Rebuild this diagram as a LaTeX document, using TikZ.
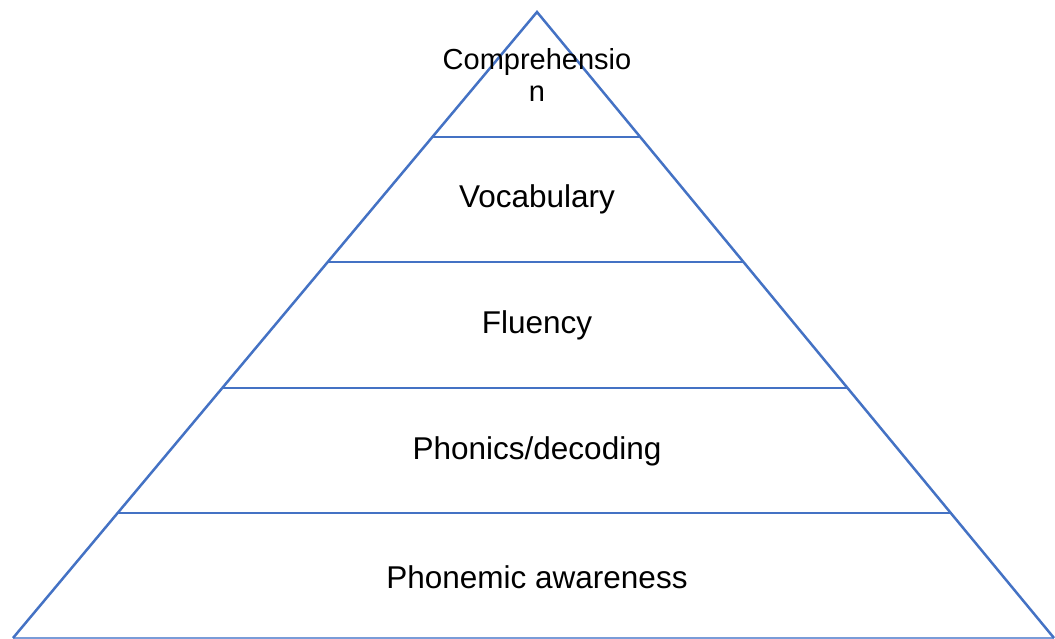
\documentclass[tikz,border=0pt]{standalone}
\usepackage{fontspec}
\setmainfont{Liberation Sans}
\usetikzlibrary{calc}
\definecolor{edgeblue}{HTML}{4472C4}
\definecolor{baseblue}{HTML}{7A9CD8}
\tikzset{
  side/.style={draw=edgeblue, line width=2.5pt, line join=miter},
  tier/.style={draw=edgeblue, line width=2pt},
  base/.style={draw=baseblue, line width=1.4pt},
  label/.style={font=\fontsize{31.5}{35}\selectfont, text=black, align=center, inner sep=0pt},
  toplabel/.style={label, font=\fontsize{29}{32.5}\selectfont},
}
\begin{document}
\begin{tikzpicture}[x=1pt, y=-1pt]
  \useasboundingbox (0,0) rectangle (1055,639);
  \coordinate (apex) at (537,12);
  \coordinate (bl) at (13,638);
  \coordinate (br) at (1054,638);

  % tier boundaries at equal fifths of the height
  \foreach \t/\n in {0.2/a, 0.4/b, 0.6/c, 0.8/d} {
    \coordinate (l\n) at ($(apex)!\t!(bl)$);
    \coordinate (r\n) at ($(apex)!\t!(br)$);
  }
  \draw[tier] (la) -- (ra);
  \draw[tier] (lb) -- (rb);
  \draw[tier] (lc) -- (rc);
  \draw[tier] (ld) -- (rd);

  \draw[base] (bl) -- (br);
  \draw[side] (bl) -- (apex) -- (br);

  \node[toplabel] (comp) at (537,75) {Comprehensio\\n};
  \node[label] (voc) at (537,199) {Vocabulary};
  \node[label] (flu) at (537,325) {Fluency};
  \node[label] (pho) at (537,451) {Phonics/decoding};
  \node[label] (pa) at (537,577) {Phonemic awareness};
\end{tikzpicture}
\end{document}
